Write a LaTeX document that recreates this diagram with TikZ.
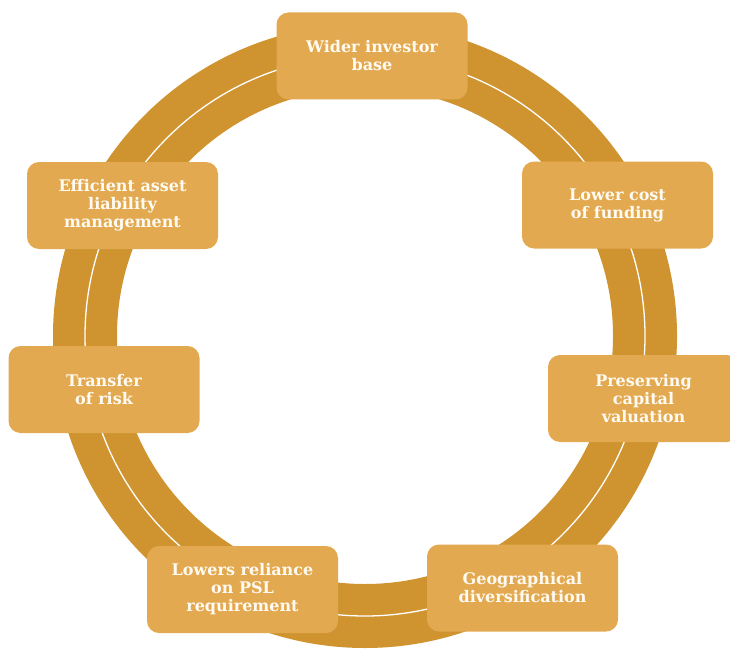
\documentclass[tikz,border=0pt]{standalone}
\usepackage{fontspec}
\setmainfont{DejaVu Serif}
\definecolor{ringgold}{HTML}{CF9430}
\definecolor{boxgold}{HTML}{E3A950}
\definecolor{boxtext}{HTML}{FFFBF2}
\begin{document}
\begin{tikzpicture}[x=1pt, y=-1pt,
  benefit/.style={rectangle, rounded corners=12pt, fill=boxgold, text=boxtext,
    minimum width=191pt, minimum height=87pt, inner sep=2pt, align=center,
    font=\bfseries\fontsize{16}{18}\selectfont}]
\useasboundingbox (0,0) rectangle (730,650);
% ring
\coordinate (hub) at (365,336);
\fill[ringgold, even odd rule] (hub) circle[radius=312pt] (hub) circle[radius=248pt];
\draw[white, line width=1.3pt] (hub) circle[radius=280pt];
% boxes round the ring
\node[benefit] (investor) at (372,56) {Wider investor\\base};
\node[benefit] (funding) at (617.5,205) {Lower cost\\of funding};
\node[benefit] (valuation) at (643.5,398.5) {Preserving\\capital\\valuation};
\node[benefit] (geo) at (522.5,588) {Geographical\\diversification};
\node[benefit] (psl) at (242.5,589.5) {Lowers reliance\\on PSL\\requirement};
\node[benefit] (risk) at (104,389.5) {Transfer\\of risk};
\node[benefit] (alm) at (122.5,205.5) {Efficient asset\\liability\\management};
\end{tikzpicture}
\end{document}
